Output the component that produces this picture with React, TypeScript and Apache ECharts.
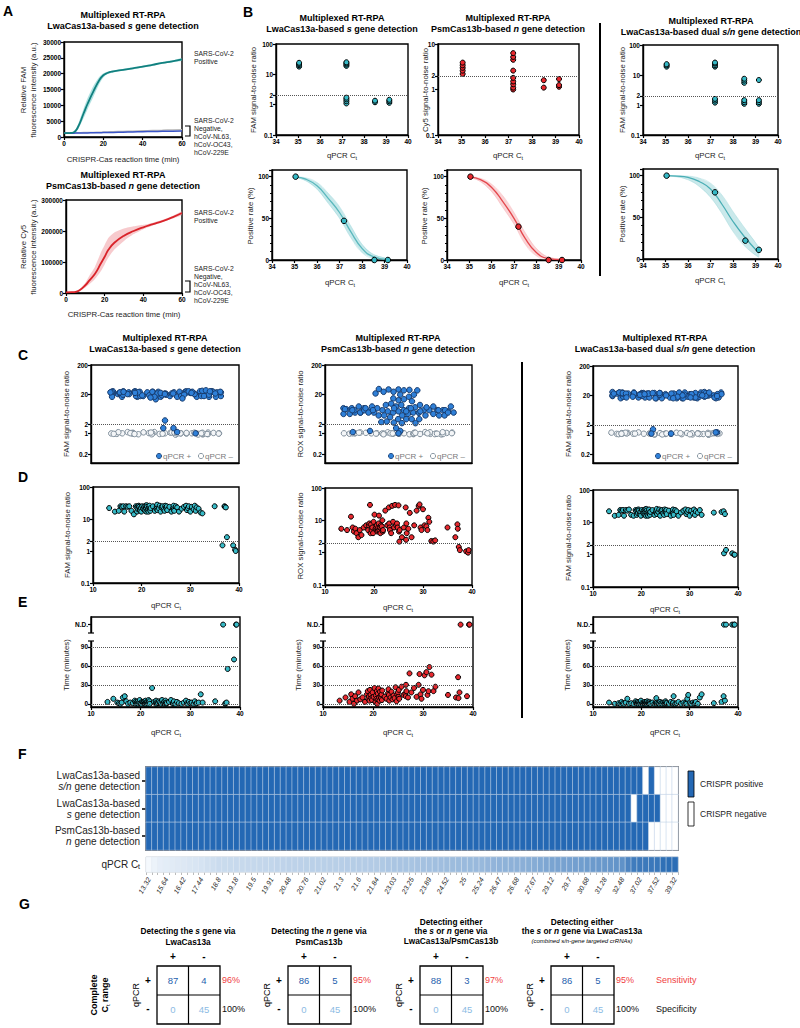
import React, { useEffect, useRef } from "react";
import * as echarts from "echarts";

const FONT = "'Liberation Sans', Arial, Helvetica, sans-serif";
const ND = 125; // axis position of the "N.D." (not detected) row in panel E

// ---------- Panel A: kinetics ----------
const timeA = [0, 3, 5, 7, 10, 12, 15, 18, 20, 22, 25, 30, 35, 40, 45, 50, 55, 60];
const famPos = [1200, 1250, 1500, 3000, 7500, 10500, 14500, 18000, 19500, 20200, 20700, 21200, 21700, 22200, 22800, 23400, 23900, 24500];
const famPosLo = [1100, 1150, 1350, 2300, 6000, 8800, 12800, 16800, 18800, 19800, 20400, 20900, 21400, 21900, 22500, 23100, 23600, 24100];
const famPosHi = [1300, 1350, 1700, 3800, 9000, 12300, 16200, 19000, 20100, 20600, 21000, 21500, 22000, 22500, 23100, 23700, 24200, 24900];
const famNegGray = [1300, 1320, 1340, 1360, 1400, 1420, 1460, 1510, 1550, 1590, 1650, 1750, 1850, 1950, 2050, 2130, 2220, 2300];
const famNegBlue = [1200, 1210, 1220, 1240, 1270, 1290, 1320, 1360, 1390, 1420, 1460, 1530, 1600, 1670, 1730, 1790, 1850, 1900];
const cy5Pos = [2000, 2500, 4000, 9000, 25000, 40000, 62000, 95000, 117000, 140000, 162000, 185000, 200000, 212000, 222000, 232000, 244000, 258000];
const cy5PosLo = [1500, 2000, 3000, 6000, 18000, 28000, 45000, 70000, 92000, 115000, 140000, 168000, 190000, 206000, 218000, 229000, 240000, 252000];
const cy5PosHi = [2500, 3000, 5000, 12000, 33000, 55000, 85000, 130000, 155000, 178000, 195000, 208000, 215000, 220000, 227000, 236000, 248000, 264000];

// ---------- Panel B: limit of detection ----------
const b1Top = [[35.05, 18], [35.05, 20], [35.05, 22], [35.05, 24], [37.2, 19], [37.2, 21], [37.2, 23], [37.2, 25], [37.2, 1.1], [37.2, 1.3], [37.2, 1.5], [37.2, 1.7], [38.5, 1.2], [38.5, 1.35], [39.15, 1.15], [39.15, 1.3], [39.15, 1.45]];
const b2Top = [[35.05, 2.2], [35.05, 2.6], [35.05, 3.0], [35.05, 3.4], [35.05, 3.9], [37.2, 1.0], [37.2, 1.1], [37.2, 1.3], [37.2, 1.5], [37.2, 1.8], [37.2, 2.6], [37.2, 4.5], [37.2, 5.2], [37.2, 6.3], [38.5, 1.1], [38.5, 1.6], [39.15, 1.15], [39.15, 1.25], [39.15, 1.7]];
const b3Top = [[35.05, 19], [35.05, 21], [35.05, 23], [37.2, 19], [37.2, 21], [37.2, 24], [37.2, 26], [37.2, 1.2], [37.2, 1.4], [37.2, 1.6], [38.5, 5.5], [38.5, 6.5], [38.5, 7.5], [38.5, 1.1], [38.5, 1.25], [38.5, 1.45], [39.15, 6.8], [39.15, 1.1], [39.15, 1.25], [39.15, 1.45]];
const b1Rate = [[35.05, 100], [37.2, 47], [38.55, 0], [39.15, 0]];
const b2Rate = [[35.05, 100], [37.2, 40], [38.55, 0], [39.15, 0]];
const b3Rate = [[35.05, 100], [37.2, 80], [38.55, 22], [39.15, 11]];
const fitX = [35.05, 35.5, 36, 36.5, 37, 37.5, 38, 38.5, 39.15];
const b1Fit = [99.5, 97, 89, 74, 57, 34, 14, 4, 0.5];
const b1Lo = [99, 95, 85, 68, 50, 27, 9, 2, 0];
const b1Hi = [100, 98.5, 93, 80, 64, 41, 19, 7, 2];
const b2Fit = [99.5, 96.5, 87, 70, 50, 26, 9, 2, 0.3];
const b2Lo = [99, 94, 82, 63, 43, 19, 5, 0.5, 0];
const b2Hi = [100, 98, 91, 77, 57, 33, 14, 4, 1];
const b3Fit = [100, 99.5, 98, 93, 84, 66, 45, 27, 7];
const b3Lo = [99.5, 98.5, 95, 87, 74, 55, 33, 16, 2];
const b3Hi = [100, 100, 99.5, 97, 91, 77, 57, 38, 14];

// ---------- Panels C–F: clinical samples (qPCR-positive, sorted by Ct) ----------
const ctVals = [13.32, 14.5, 15.3, 15.64, 15.9, 16.2, 16.42, 16.8, 17.1, 17.44, 17.9, 18.4, 18.8, 18.95, 19.05, 19.18, 19.3, 19.4, 19.5, 19.65, 19.8, 19.91, 20.1, 20.3, 20.48, 20.58, 20.68, 20.76, 20.85, 20.95, 21.02, 21.1, 21.2, 21.3, 21.4, 21.5, 21.6, 21.7, 21.78, 21.84, 22.3, 22.7, 23.03, 23.1, 23.18, 23.25, 23.5, 23.7, 23.89, 24.1, 24.3, 24.52, 24.7, 24.85, 25, 25.1, 25.17, 25.24, 25.7, 26.1, 26.47, 26.55, 26.6, 26.68, 27.0, 27.3, 27.67, 28.2, 28.7, 29.12, 29.3, 29.5, 29.7, 30.0, 30.3, 30.68, 30.9, 31.1, 31.28, 31.7, 32.1, 32.48, 35.0, 36.6, 37.02, 37.1, 37.3, 37.52, 38.8, 39.2, 39.32];
const famS = [22, 17, 18, 25, 24, 25, 17, 25, 24, 25, 18, 14, 25, 23, 17, 25, 20, 26, 24, 19, 22, 17, 25, 21, 24, 20, 18, 26, 22, 17, 27, 24, 19, 21, 17, 23, 26, 20, 18, 22, 25, 18, 21, 24, 28, 19, 22, 26, 17, 24, 25, 20, 18, 26, 23, 21, 25, 19, 24, 17, 22, 26, 20, 18, 25, 23, 17, 21, 24, 26, 19, 22, 25, 17, 24, 20, 26, 18, 23, 21, 16, 15, 25, 1.5, 25, 24, 23, 2.7, 1.5, 1.1, 1.0];
const roxN = [5.5, 5, 13, 6, 4.5, 5.5, 4, 3, 5, 3.5, 6, 7, 5, 7, 8, 30, 4, 7.5, 5, 6, 4, 9, 15, 5.5, 6, 7, 4.5, 5, 6, 8, 14, 5, 6, 4, 7, 5.5, 6.5, 10, 4.5, 5, 20, 7, 25, 8, 6, 5, 4, 28, 9, 6, 30, 7, 8, 6, 29, 4.5, 2.2, 5, 3, 6, 25, 2.5, 8, 4, 5.5, 17, 3, 7, 20, 28, 31, 6, 5, 22, 7, 6.5, 5, 12, 9, 2.3, 2.2, 2.4, 6, 3, 7.5, 5.5, 1.5, 1.2, 1.1, 1.0, 1.2];
const famSN = [22, 16, 17, 24, 23, 24, 16, 24, 23, 25, 17, 16, 24, 22, 17, 24, 19, 25, 23, 18, 21, 16, 24, 20, 23, 19, 17, 25, 21, 16, 26, 23, 18, 20, 16, 22, 25, 19, 17, 21, 24, 17, 20, 23, 26, 18, 21, 25, 16, 23, 24, 19, 17, 25, 22, 20, 24, 18, 23, 16, 21, 25, 19, 17, 24, 22, 16, 20, 23, 25, 18, 21, 24, 16, 23, 19, 25, 17, 22, 20, 24, 17, 20, 21, 22, 1.1, 18, 1.4, 1.1, 1.0, 1.0];
const timeS = [3, 8, 2, 1, 0, 2, 10, 12, 4, 0, 2, 1, 5, 3, 0, 2, 1, 4, 0, 2, 6, 1, 0, 3, 2, 2, 0, 4, 1, 0, 5, 2, 0, 3, 1, 0, 6, 2, 4, 0, 25, 3, 0, 5, 2, 0, 1, 4, 2, 0, 6, 1, 3, 0, 5, 2, 0, 1, 3, 6, 0, 2, 1, 4, 0, 3, 1, 0, 2, 5, 1, 0, 3, 1, 2, 0, 4, 0, 1, 2, 15, 2, 4, ND, 0, 1, 2, 55, 70, ND, ND];
const timeN = [5, 10, 3, 15, 8, 0, 12, 5, 18, 7, 10, 3, 15, 20, 8, 12, 5, 22, 14, 9, 6, 18, 11, 25, 3, 13, 8, 20, 0, 16, 7, 24, 10, 5, 19, 12, 9, 15, 6, 21, 11, 8, 17, 23, 14, 5, 10, 19, 7, 13, 9, 26, 4, 15, 18, 11, 22, 8, 27, 14, 16, 12, 30, 20, 10, 48, 18, 25, 11, 30, 47, 15, 8, 22, 45, 50, 14, 20, 58, 46, 20, 27, 14, 10, 42, 9, 18, ND, 12, ND, ND];
const timeSN = [2, 0, 1, 0, 3, 1, 0, 2, 8, 0, 1, 0, 4, 2, 0, 1, 3, 0, 2, 1, 0, 5, 1, 0, 2, 0, 1, 3, 0, 2, 1, 0, 4, 0, 2, 1, 0, 3, 1, 0, 2, 0, 1, 9, 0, 2, 1, 0, 3, 1, 0, 2, 0, 1, 4, 0, 2, 1, 0, 3, 1, 0, 2, 12, 0, 1, 3, 0, 2, 1, 0, 8, 14, 1, 0, 2, 0, 1, 3, 0, 10, 15, 1, 3, 12, ND, 5, ND, ND, ND, ND];
// qPCR-negative samples (panel C)
const negS = [1.0, 0.95, 1.05, 1.1, 0.9, 1.0, 1.02, 0.98, 1.08, 0.93, 1.0, 1.04, 0.97, 1.1, 0.92, 1.0, 1.06, 0.96, 1.03, 0.99, 1.0, 0.94, 1.07, 1.01, 0.97, 1.05, 0.91, 1.0, 1.02, 0.98, 1.09, 0.95, 1.0, 1.04, 0.96, 1.01, 0.93, 1.06, 1.0, 0.98, 1.03, 0.97, 1.0, 1.05, 0.95];
const negN = [1.02, 0.97, 1.0, 1.08, 0.93, 1.05, 0.99, 1.01, 0.95, 1.1, 1.0, 0.96, 1.04, 0.98, 1.07, 0.92, 1.0, 1.03, 0.97, 1.06, 1.0, 0.94, 1.02, 1.08, 0.99, 0.95, 1.05, 1.0, 0.97, 1.03, 0.93, 1.06, 1.0, 0.98, 1.04, 0.96, 1.01, 1.09, 0.94, 1.0, 1.02, 0.97, 1.05, 0.99, 1.0];
const negSN = [0.98, 1.04, 1.0, 0.93, 1.07, 1.01, 0.96, 1.05, 0.99, 1.1, 0.94, 1.0, 1.03, 0.97, 1.06, 1.0, 0.92, 1.04, 0.98, 1.02, 1.08, 0.95, 1.0, 1.03, 0.97, 1.05, 0.99, 0.93, 1.06, 1.01, 0.96, 1.04, 1.0, 0.98, 1.07, 0.94, 1.02, 1.0, 0.97, 1.05, 0.99, 1.03, 0.95, 1.0, 1.01];
const heatRowLabels = ["LwaCas13a-based\n{i|s/n} gene detection", "LwaCas13a-based\n{i|s} gene detection", "PsmCas13b-based\n{i|n} gene detection"];
const THRESH = 2;

// ---------- Panel G ----------
const gTitles = [
  ["Detecting the {i|s} gene via", "LwaCas13a"],
  ["Detecting the {i|n} gene via", "PsmCas13b"],
  ["Detecting either", "the {i|s} or {i|n} gene via", "LwaCas13a/PsmCas13b"],
  ["Detecting either", "the {i|s} or {i|n} gene via LwaCas13a", "{s|(combined }{si|s/n}{s|-gene targeted crRNAs)}"],
];
const gTP = [87, 86, 88, 86];
const gFN = [4, 5, 3, 5];
const gFP = [0, 0, 0, 0];
const gTN = [45, 45, 45, 45];

const TEAL_LINE = "#11807f";
const TEAL_PT = "#36b9c6";
const RED_PT = "#e8282e";
const RED_LINE = "#d9232a";
const BLUE_PT = "#2f80d8";
const HEAT = "#2468b4";

function buildOption(): any {
  const G = [
    [64, 42, 118, 95], [66, 200, 116, 93],
    [276, 44, 132, 91], [438, 44, 141, 91], [643, 45, 135, 90],
    [272, 170, 135, 90], [447, 170, 134, 90], [643, 169, 135, 90],
    [91, 365, 148, 98], [325, 365, 147, 98], [593, 366, 145, 97],
    [93, 487, 146, 96], [325, 488, 147, 97], [593, 490, 145, 97],
    [91, 617, 149, 90], [323, 617, 150, 90], [593, 617, 145, 90],
    [146, 767, 532, 83], [146, 857, 532, 15],
  ];
  const grid = G.map((g, i) => ({
    left: g[0], top: g[1], width: g[2], height: g[3], show: true,
    borderColor: i === 18 ? "#c4c4c4" : "#000", borderWidth: i === 18 ? 1 : 1.4,
    backgroundColor: "rgba(0,0,0,0)",
  }));

  const lbl = { color: "#000", fontSize: 6.5, fontWeight: "bold", fontFamily: FONT, margin: 3 };
  const aline = { show: true, onZero: false, lineStyle: { color: "#000", width: 1.4 } };
  const tick = { show: true, inside: false, length: 3, lineStyle: { color: "#000", width: 1.2 } };
  const vAx = (gi: number, min: number, max: number, interval: number, extra: any = {}) => ({
    type: "value", gridIndex: gi, min, max, interval, axisLine: aline, axisTick: tick,
    axisLabel: { ...lbl, formatter: (v: number) => String(v) }, splitLine: { show: false }, ...extra,
  });
  const logAx = (gi: number, min: number, max: number, ticks: number[]) => ({
    type: "log", logBase: 10, gridIndex: gi, min, max, axisLine: aline,
    axisTick: { ...tick, customValues: ticks },
    axisLabel: { ...lbl, customValues: ticks, formatter: (v: number) => String(+Number(v).toPrecision(3)) },
    splitLine: { show: false }, minorTick: { show: false },
  });
  const catJ = (gi: number) => ({
    type: "category", gridIndex: gi, data: ["all"], jitter: 112, jitterOverlap: false, jitterMargin: 0,
    axisLine: aline, axisTick: { show: false }, axisLabel: { show: false }, splitLine: { show: false },
  });
  const eAx = (gi: number) => ({
    type: "value", gridIndex: gi, min: -5, max: 137, axisLine: aline,
    axisTick: { ...tick, customValues: [0, 30, 60, 90, ND] },
    axisLabel: { ...lbl, customValues: [0, 30, 60, 90, ND], formatter: (v: number) => (v === ND ? "N.D." : String(v)) },
    splitLine: { show: false },
  });
  const minor = { minorTick: { show: true, splitNumber: 5, length: 2, lineStyle: { color: "#000", width: 1 } } };

  const xAxis: any[] = [
    vAx(0, 0, 60, 20), vAx(1, 0, 60, 20),
    vAx(2, 34, 40, 1), vAx(3, 34, 40, 1), vAx(4, 34, 40, 1),
    vAx(5, 34, 40, 1), vAx(6, 34, 40, 1), vAx(7, 34, 40, 1),
    catJ(8), catJ(9), catJ(10),
    vAx(11, 10, 40, 10), vAx(12, 10, 40, 10), vAx(13, 10, 40, 10),
    vAx(14, 10, 40, 10), vAx(15, 10, 40, 10), vAx(16, 10, 40, 10),
    { type: "category", gridIndex: 17, data: ctVals.map((_, i) => i), show: false },
    {
      type: "category", gridIndex: 18, data: ctVals.map(String),
      axisLine: { show: false },
      axisTick: { show: true, interval: 0, length: 3, lineStyle: { color: "#aaa", width: 0.8 } },
      axisLabel: { interval: 2, rotate: 60, fontStyle: "italic", fontSize: 7, color: "#222", fontFamily: FONT, margin: 6 },
    },
  ];
  const yAxis: any[] = [
    vAx(0, 0, 30000, 5000), vAx(1, 0, 300000, 100000),
    logAx(2, 0.1, 100, [0.1, 1, 2, 10, 100]), logAx(3, 0.1, 10, [0.1, 1, 2, 10]), logAx(4, 0.1, 100, [0.1, 1, 2, 10, 100]),
    vAx(5, 0, 108, 50, minor), vAx(6, 0, 108, 50, minor), vAx(7, 0, 108, 50, minor),
    logAx(8, 0.1, 200, [0.2, 1, 2, 20, 200]), logAx(9, 0.1, 200, [0.2, 1, 2, 20, 200]), logAx(10, 0.1, 200, [0.2, 1, 2, 20, 200]),
    logAx(11, 0.1, 100, [0.1, 1, 2, 10, 100]), logAx(12, 0.1, 100, [0.1, 1, 2, 10, 100]), logAx(13, 0.1, 100, [0.1, 1, 2, 10, 100]),
    eAx(14), eAx(15), eAx(16),
    {
      type: "category", gridIndex: 17, data: [0, 1, 2], inverse: true,
      axisLine: { show: false },
      axisTick: { show: true, alignWithLabel: true, length: 4, lineStyle: { color: "#000", width: 1.5 } },
      axisLabel: {
        formatter: (v: any) => heatRowLabels[+v], color: "#222", fontSize: 10, fontFamily: FONT, lineHeight: 11, margin: 6, align: "right",
        rich: { i: { fontStyle: "italic", fontSize: 10, fontFamily: FONT, color: "#222", lineHeight: 11 } },
      },
    },
    { type: "category", gridIndex: 18, data: ["ct"], show: false },
  ];

  const series: any[] = [];
  const xy = (xs: number[], ys: number[]) => xs.map((x, i) => [x, ys[i]]);
  // confidence band drawn as one polygon through the axis scales
  const band = (gi: number, xs: number[], lo: number[], hi: number[], color: string) =>
    series.push({
      type: "custom", xAxisIndex: gi, yAxisIndex: gi, silent: true, z: 1, clip: true,
      data: xs.map((x, i) => [x, lo[i], hi[i]]),
      renderItem: (params: any, api: any) => {
        if (params.dataIndex !== 0) return { type: "group", children: [] };
        const top = xs.map((x, i) => api.coord([x, hi[i]]));
        const bot = xs.map((x, i) => api.coord([x, lo[i]])).reverse();
        return { type: "polygon", shape: { points: top.concat(bot), smooth: 0.2 }, style: { fill: color } };
      },
    });
  const lineS = (gi: number, data: any[], color: string, width: number, z = 3) =>
    series.push({ type: "line", xAxisIndex: gi, yAxisIndex: gi, data, symbol: "none", smooth: true, lineStyle: { color, width }, itemStyle: { color }, silent: true, z });
  const mk = (ys: number[]) => ({
    silent: true, symbol: ["none", "none"], label: { show: false }, animation: false,
    lineStyle: { color: "#555", type: "dotted", width: 1 }, data: ys.map((y) => ({ yAxis: y })),
  });
  const scat = (gi: number, data: any[], fill: string, size: number, border = "#000", markYs?: number[], z = 4) =>
    series.push({
      type: "scatter", xAxisIndex: gi, yAxisIndex: gi, data, symbolSize: size, silent: true, z,
      itemStyle: { color: fill, borderColor: border, borderWidth: 1, opacity: 1 },
      markLine: markYs ? mk(markYs) : undefined,
    });

  // A
  band(0, timeA, famPosLo, famPosHi, "rgba(110,200,200,0.55)");
  lineS(0, xy(timeA, famNegGray), "#b8b8b8", 1.5);
  lineS(0, xy(timeA, famNegBlue), "#3a55c8", 1.5);
  lineS(0, xy(timeA, famPos), TEAL_LINE, 1.8);
  band(1, timeA, cy5PosLo, cy5PosHi, "rgba(240,150,155,0.5)");
  lineS(1, xy(timeA, cy5Pos), RED_LINE, 1.8);
  // B top
  scat(2, b1Top, TEAL_PT, 5, "#000", [THRESH]);
  scat(3, b2Top, RED_PT, 5, "#000", [THRESH]);
  scat(4, b3Top, TEAL_PT, 5, "#000", [THRESH]);
  // B bottom
  const bb = [
    [5, b1Lo, b1Hi, b1Fit, b1Rate, "rgba(140,210,214,0.5)", "#5ab8bd", TEAL_PT],
    [6, b2Lo, b2Hi, b2Fit, b2Rate, "rgba(244,160,165,0.45)", "#e4484e", RED_PT],
    [7, b3Lo, b3Hi, b3Fit, b3Rate, "rgba(150,212,216,0.5)", "#4aaeb5", TEAL_PT],
  ] as any[];
  bb.forEach(([gi, lo, hi, fit, rate, bc, lc, pc]) => {
    band(gi, fitX, lo, hi, bc);
    lineS(gi, xy(fitX, lo), bc, 0.7, 2);
    lineS(gi, xy(fitX, hi), bc, 0.7, 2);
    lineS(gi, xy(fitX, fit), lc, 1.3);
    scat(gi, rate, pc, 5.5, "#000");
  });
  // C (beeswarm via axis jitter)
  const cSets = [[8, famS, negS], [9, roxN, negN], [10, famSN, negSN]] as any[];
  cSets.forEach(([gi, pos, neg]) => {
    scat(gi, neg.map((v: number) => [0, v]), "#f4f6f8", 5.5, "#7f8e9b", undefined, 3);
    scat(gi, pos.map((v: number) => [0, v]), BLUE_PT, 5.5, "#173a6b", [THRESH], 4);
  });
  // D
  scat(11, xy(ctVals, famS), TEAL_PT, 5, "#000", [THRESH]);
  scat(12, xy(ctVals, roxN), RED_PT, 5, "#000", [THRESH]);
  scat(13, xy(ctVals, famSN), TEAL_PT, 5, "#000", [THRESH]);
  // E
  scat(14, xy(ctVals, timeS), TEAL_PT, 5, "#000", [0, 30, 60, 90]);
  scat(15, xy(ctVals, timeN), RED_PT, 5, "#000", [0, 30, 60, 90]);
  scat(16, xy(ctVals, timeSN), TEAL_PT, 5, "#000", [0, 30, 60, 90]);
  // F
  const heatData: any[] = [];
  [famSN, famS, roxN].forEach((vals, r) => vals.forEach((v, c) => heatData.push([c, r, v > THRESH ? 1 : 0])));
  const heatIdx = series.length;
  series.push({ type: "heatmap", xAxisIndex: 17, yAxisIndex: 17, data: heatData, silent: true, itemStyle: { borderColor: "#c3d4e8", borderWidth: 0.6 } });
  const ctIdx = series.length;
  series.push({ type: "heatmap", xAxisIndex: 18, yAxisIndex: 18, data: ctVals.map((v, i) => [i, 0, v]), silent: true, itemStyle: { borderColor: "#e4ecf5", borderWidth: 0.5 } });

  // ---------- graphic ----------
  const gr: any[] = [];
  const txt = (x: number, y: number, text: string, o: any = {}) =>
    gr.push({
      type: "text", x, y, rotation: o.rot || 0, silent: true, z: 100,
      style: {
        text, fill: o.fill || "#000", fontSize: o.size || 8, fontWeight: o.bold ? "bold" : "normal",
        fontStyle: o.italic ? "italic" : "normal", fontFamily: FONT, align: o.align || "center",
        verticalAlign: o.va || "middle", lineHeight: o.lh, rich: o.rich,
      },
    });
  const richT = (size: number, bold: boolean) => ({
    i: { fontStyle: "italic", fontWeight: bold ? "bold" : "normal", fontSize: size, fontFamily: FONT, fill: "#000" },
    sub: { fontSize: size * 0.68, fontFamily: FONT, verticalAlign: "bottom", lineHeight: size * 0.7, fill: "#000" },
    s: { fontSize: 6, fontStyle: "italic", fontFamily: FONT, fill: "#000" },
    si: { fontSize: 6, fontStyle: "italic", fontFamily: FONT, fill: "#000" },
  });
  const RT = richT(9, true);
  const title = (cx: number, y1: number, l2: string) => {
    txt(cx, y1, "Multiplexed RT-RPA", { bold: true, size: 9 });
    txt(cx, y1 + 11, l2, { bold: true, size: 9, rich: RT });
  };
  // panel letters
  [["A", 3, 11], ["B", 243, 12], ["C", 18, 355], ["D", 18, 477], ["E", 18, 602], ["F", 18, 754], ["G", 19, 904]].forEach(([s, x, y]: any) =>
    txt(x, y, s, { bold: true, size: 14, align: "left" }));
  // titles
  title(123, 15, "LwaCas13a-based {i|s} gene detection");
  title(123, 175, "PsmCas13b-based {i|n} gene detection");
  title(342, 18, "LwaCas13a-based {i|s} gene detection");
  title(508, 18, "PsmCas13b-based {i|n} gene detection");
  title(711, 21, "LwaCas13a-based dual {i|s/n} gene detection");
  title(165, 338, "LwaCas13a-based {i|s} gene detection");
  title(398, 338, "PsmCas13b-based {i|n} gene detection");
  title(665, 338, "LwaCas13a-based dual {i|s/n} gene detection");
  // axis names
  const RN = richT(8, false);
  const yname = (x: number, y: number, s: string) => txt(x, y, s, { rot: Math.PI / 2, size: 7.8, fill: "#222", lh: 10 });
  const xname = (x: number, y: number, s: string) => txt(x, y, s, { size: 7.8, fill: "#222", rich: RN, lh: 10 });
  yname(28, 90, "Relative FAM\nfluorescence intensity (a.u.)");
  yname(28, 247, "Relative Cy5\nfluorescence intensity (a.u.)");
  xname(123, 159, "CRISPR-Cas reaction time (min)");
  xname(124, 314, "CRISPR-Cas reaction time (min)");
  yname(253, 90, "FAM signal-to-noise ratio");
  yname(425, 90, "Cy5 signal-to-noise ratio");
  yname(622, 90, "FAM signal-to-noise ratio");
  [[342, 155], [508, 155], [710, 155], [340, 282], [514, 282], [710, 280], [166, 605], [398, 607], [665, 609], [166, 732], [398, 732], [665, 732]].forEach(([x, y]) =>
    xname(x, y, "qPCR C{sub|t}"));
  yname(250, 216, "Positive rate (%)");
  yname(424, 216, "Positive rate (%)");
  yname(622, 214, "Positive rate (%)");
  yname(66, 414, "FAM signal-to-noise ratio");
  yname(300, 414, "ROX signal-to-noise ratio");
  yname(568, 414, "FAM signal-to-noise ratio");
  yname(67, 535, "FAM signal-to-noise ratio");
  yname(300, 536, "ROX signal-to-noise ratio");
  yname(568, 538, "FAM signal-to-noise ratio");
  yname(66, 665, "Time (minutes)");
  yname(298, 665, "Time (minutes)");
  yname(567, 665, "Time (minutes)");
  // A side annotations
  const side = (y: number, s: string) => txt(194, y, s, { align: "left", va: "top", size: 6.8, fill: "#222", lh: 8 });
  side(49, "SARS-CoV-2\nPositive");
  side(116, "SARS-CoV-2\nNegative,\nhCoV-NL63,\nhCoV-OC43,\nhCoV-229E");
  side(208, "SARS-CoV-2\nPositive");
  side(264, "SARS-CoV-2\nNegative,\nhCoV-NL63,\nhCoV-OC43,\nhCoV-229E");
  gr.push({ type: "polyline", silent: true, z: 100, shape: { points: [[185, 126], [190, 126], [190, 136], [185, 136]] }, style: { stroke: "#000", lineWidth: 1.2, fill: null } });
  gr.push({ type: "polyline", silent: true, z: 100, shape: { points: [[185, 281], [190, 281], [190, 292], [185, 292]] }, style: { stroke: "#000", lineWidth: 1.2, fill: null } });
  // dividers
  gr.push({ type: "line", silent: true, z: 100, shape: { x1: 600, y1: 23, x2: 600, y2: 276 }, style: { stroke: "#000", lineWidth: 2 } });
  gr.push({ type: "line", silent: true, z: 100, shape: { x1: 522, y1: 362, x2: 522, y2: 718 }, style: { stroke: "#000", lineWidth: 2 } });
  // C legends
  [[159, 456], [391, 456], [658, 456]].forEach(([x, y]) => {
    gr.push({ type: "circle", silent: true, z: 100, shape: { cx: x, cy: y, r: 2.6 }, style: { fill: BLUE_PT, stroke: "#173a6b", lineWidth: 0.8 } });
    txt(x + 4, y, "qPCR +", { align: "left", size: 8, fill: "#7a7a7a" });
    gr.push({ type: "circle", silent: true, z: 100, shape: { cx: x + 42, cy: y, r: 2.6 }, style: { fill: "#fff", stroke: "#7f8e9b", lineWidth: 0.9 } });
    txt(x + 46, y, "qPCR \u2013", { align: "left", size: 8, fill: "#7a7a7a" });
  });
  // E axis breaks
  [91, 323, 593].forEach((gl) => {
    gr.push({ type: "rect", silent: true, z: 110, shape: { x: gl - 3, y: 633, width: 6, height: 8 }, style: { fill: "#fff" } });
    gr.push({ type: "line", silent: true, z: 111, shape: { x1: gl - 3, y1: 633, x2: gl + 3, y2: 633 }, style: { stroke: "#000", lineWidth: 1.2 } });
    gr.push({ type: "line", silent: true, z: 111, shape: { x1: gl - 3, y1: 641, x2: gl + 3, y2: 641 }, style: { stroke: "#000", lineWidth: 1.2 } });
  });
  // F legend & Ct label
  gr.push({ type: "rect", silent: true, z: 100, shape: { x: 688, y: 771, width: 6, height: 26 }, style: { fill: HEAT, stroke: "#000", lineWidth: 0.8 } });
  gr.push({ type: "rect", silent: true, z: 100, shape: { x: 688, y: 802, width: 6, height: 24 }, style: { fill: "#fff", stroke: "#000", lineWidth: 0.8 } });
  txt(700, 784, "CRISPR positive", { align: "left", size: 8.5, fill: "#222" });
  txt(700, 814, "CRISPR negative", { align: "left", size: 8.5, fill: "#222" });
  txt(140, 864, "qPCR C{sub|t}", { align: "right", size: 10, fill: "#222", rich: richT(10, false), lh: 12 });
  // G tables
  const boxL = [157, 288, 420, 551];
  boxL.forEach((L, k) => {
    const cx = L + 31;
    const lines = gTitles[k];
    const ys = lines.length === 2 ? [931, 942] : [922, 931, 941];
    lines.forEach((s, j) => txt(cx, ys[j], s, { bold: true, size: 8.3, rich: richT(8.3, true) }));
    txt(L + 16, 956, "+", { bold: true, size: 10 });
    txt(L + 47, 956, "-", { bold: true, size: 10 });
    txt(L - 9, 980, "+", { bold: true, size: 10 });
    txt(L - 9, 1008, "-", { bold: true, size: 10 });
    txt(L - 21, 995, "qPCR", { rot: Math.PI / 2, size: 9 });
    gr.push({ type: "rect", silent: true, z: 100, shape: { x: L, y: 966, width: 63, height: 58 }, style: { fill: null, stroke: "#000", lineWidth: 1.3 } });
    gr.push({ type: "line", silent: true, z: 100, shape: { x1: L + 31.5, y1: 966, x2: L + 31.5, y2: 1024 }, style: { stroke: "#000", lineWidth: 1.2 } });
    gr.push({ type: "line", silent: true, z: 100, shape: { x1: L, y1: 995, x2: L + 63, y2: 995 }, style: { stroke: "#000", lineWidth: 1.2 } });
    txt(L + 16, 980, String(gTP[k]), { size: 9.5, fill: "#1f5fae" });
    txt(L + 47, 980, String(gFN[k]), { size: 9.5, fill: "#1f5fae" });
    txt(L + 16, 1009, String(gFP[k]), { size: 9.5, fill: "#8dbbe4" });
    txt(L + 47, 1009, String(gTN[k]), { size: 9.5, fill: "#8dbbe4" });
    const sens = Math.round((gTP[k] / (gTP[k] + gFN[k])) * 100);
    const spec = Math.round((gTN[k] / (gTN[k] + gFP[k])) * 100);
    txt(L + 65, 980, sens + "%", { align: "left", size: 9, fill: "#f0413f" });
    txt(L + 65, 1009, spec + "%", { align: "left", size: 9, fill: "#111" });
  });
  txt(656, 980, "Sensitivity", { align: "left", size: 9, fill: "#f0413f" });
  txt(656, 1009, "Specificity", { align: "left", size: 9, fill: "#111" });
  txt(99, 995, "Complete\nC{sub|t} range", { rot: Math.PI / 2, bold: true, size: 9, lh: 11, rich: richT(9, true) });

  return {
    animation: false,
    backgroundColor: "#fff",
    textStyle: { fontFamily: FONT },
    grid, xAxis, yAxis, series,
    visualMap: [
      { type: "piecewise", show: false, seriesIndex: heatIdx, dimension: 2, pieces: [{ value: 1, color: HEAT }, { value: 0, color: "#ffffff" }] },
      { type: "continuous", show: false, seriesIndex: ctIdx, dimension: 2, min: 13.32, max: 39.32, inRange: { color: ["#f5f9fd", "#2b6db5"] } },
    ],
    graphic: gr,
  };
}

export default function App() {
  const ref = useRef<HTMLDivElement>(null);
  useEffect(() => {
    document.body.style.margin = "0";
    const chart = echarts.init(ref.current as HTMLDivElement, null, { renderer: "svg" });
    chart.setOption(buildOption());
    return () => chart.dispose();
  }, []);
  return <div ref={ref} style={{ width: 800, height: 1028, background: "#fff" }} />;
}
